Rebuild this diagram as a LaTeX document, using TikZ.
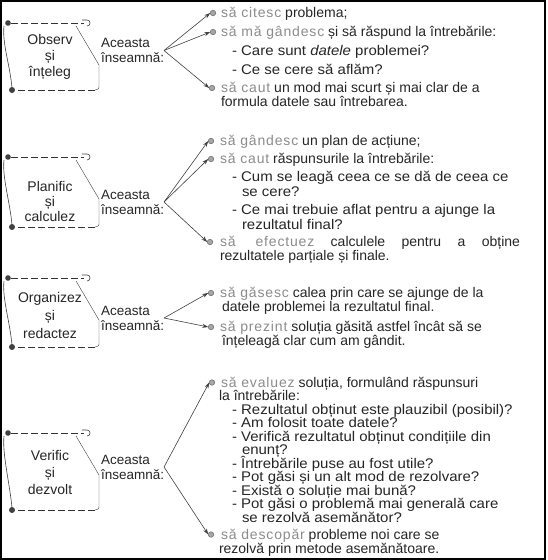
\documentclass[tikz,border=0pt]{standalone}
\usepackage{fontspec}
\setmainfont{Liberation Sans}
\newfontfamily\subfont[FakeStretch=1.07]{Liberation Sans}
\usetikzlibrary{arrows.meta}
\newcommand\vb[1]{{\addfontfeature{LetterSpace=6}\textcolor{black!45}{#1}}}
\newcommand\drawscroll[2]{%
\begin{scope}[shift={(0,#1)}]
 \draw[scrolldash] (11,0) -- (84,0);
 \draw[scrollline] (82,-3) -- (87,-3) .. controls (91,-3) and (91,3) .. (87,3);
 \fill[black!75] (8,0) circle (2.8);
 \draw[scrollline] (4,3) .. controls (2,20) and (10,#2-25) .. (12,#2-2);
 \draw[scrollline,line width=0.4pt] (76,3) -- (99,42) -- (99,#2-5) .. controls (99,#2-1) .. (95,#2);
 \draw[scrolldash] (95,#2) -- (15,#2);
 \fill[black!75] (12,#2) circle (3);
\end{scope}}
\begin{document}
\begin{tikzpicture}[x=1pt,y=-1pt,
  every node/.style={inner sep=0pt,outer sep=0pt},
  scrolldash/.style={draw=black!80,line width=0.9pt,dash pattern=on 7pt off 3pt},
  scrollline/.style={draw=black!75,line width=0.6pt},
  lbl/.style={align=center,font=\fontsize{14}{16}\selectfont,text=black!85},
  mean/.style={align=left,anchor=west,font=\fontsize{13.5}{15}\selectfont,text=black!85},
  txt/.style={anchor=base west,font=\fontsize{14}{15}\selectfont,text=black!85},
  sub/.style={anchor=base west,font=\fontsize{14}{15}\subfont,text=black!85},
  bul/.style={circle,minimum size=5.5pt,fill=black!35,draw=black!60,line width=0.5pt},
  arr/.style={-{Stealth[length=6pt,width=4pt]},draw=black!75,line width=0.6pt}]
\useasboundingbox (0,0) rectangle (547,560);
\fill[white] (0,0) rectangle (547,560);
\draw[line width=2.4pt] (1.2,1.2) rectangle (545.2,558.8);

% ---------- section 1 ----------
\drawscroll{23}{67}
\node[lbl] (l1) at (50,57) {Observ\\și\\înțeleg};
\node[mean] (a1) at (101,50.5) {Aceasta\\înseamnă:};
\node[bul] (b11) at (213,13) {};
\node[txt] (t11) at (221,17.5) {\vb{să citesc} problema;};
\node[bul] (b12) at (213,32) {};
\node[txt] (t12) at (221,36.5) {\vb{să mă gândesc} și să răspund la întrebările:};
\node[sub] (t13) at (232,55.5) {- Care sunt \textit{datele} problemei?};
\node[sub] (t14) at (232,74.5) {- Ce se cere să aflăm?};
\node[bul] (b13) at (212,88) {};
\node[txt] (t15) at (221,92.5) {\vb{să caut} un mod mai scurt și mai clar de a};
\node[txt] (t16) at (221,106) {formula datele sau întrebarea.};
\draw[arr] (a1.east) -- (b11.west);
\draw[arr] (a1.east) -- (b12.west);
\draw[arr] (a1.east) -- (b13.west);

% ---------- section 2 ----------
\drawscroll{157}{70}
\node[lbl,font=\fontsize{14}{15}\selectfont] (l2) at (50,201) {Planific\\și\\calculez};
\node[mean] (a2) at (101,202) {Aceasta\\înseamnă:};
\node[bul] (b21) at (211,141) {};
\node[txt] (t21) at (220,145.5) {\vb{să gândesc} un plan de acțiune;};
\node[bul] (b22) at (211,159) {};
\node[txt] (t22) at (220,163.5) {\vb{să caut} răspunsurile la întrebările:};
\node[sub] (t23) at (232,181.5) {- Cum se leagă ceea ce se dă de ceea ce};
\node[sub] (t24) at (242,196) {se cere?};
\node[sub] (t25) at (232,214.5) {- Ce mai trebuie aflat pentru a ajunge la};
\node[sub] (t26) at (242,229) {rezultatul final?};
\node[bul] (b23) at (210,242) {};
\node[txt] (t27) at (220,246.5) {\makebox[300pt][s]{\vb{să efectuez} calculele pentru a obține}};
\node[txt] (t28) at (220,260.5) {rezultatele parțiale și finale.};
\draw[arr] (a2.east) -- (b21.west);
\draw[arr] (a2.east) -- (b22.west);
\draw[arr] (a2.east) -- (b23.west);

% ---------- section 3 ----------
\drawscroll{278}{69}
\node[lbl,font=\fontsize{14}{18}\selectfont] (l3) at (50,315) {Organizez\\și\\redactez};
\node[mean] (a3) at (101,318) {Aceasta\\înseamnă:};
\node[bul] (b31) at (211,293) {};
\node[txt] (t31) at (220,297.5) {\vb{să găsesc} calea prin care se ajunge de la};
\node[txt] (t32) at (222,311.5) {datele problemei la rezultatul final.};
\node[bul] (b32) at (211,327) {};
\node[txt] (t33) at (220,331.5) {\vb{să prezint} soluția găsită astfel încât să se};
\node[txt] (t34) at (222,345.5) {înțeleagă clar cum am gândit.};
\draw[arr] (a3.east) -- (b31.west);
\draw[arr] (a3.east) -- (b32.west);

% ---------- section 4 ----------
\drawscroll{433}{77}
\node[lbl,font=\fontsize{14}{17}\selectfont] (l4) at (50,472) {Verific\\și\\dezvolt};
\node[mean] (a4) at (101,467) {Aceasta\\înseamnă:};
\node[bul] (b41) at (212,382.5) {};
\node[txt] (t41) at (221,387) {\vb{să evaluez} soluția, formulând răspunsuri};
\node[txt] (t42) at (219,400.5) {la întrebările:};
\node[sub] (t43) at (232,414) {- Rezultatul obținut este plauzibil (posibil)?};
\node[sub] (t44) at (232,427.5) {- Am folosit toate datele?};
\node[sub] (t45) at (232,441) {- Verifică rezultatul obținut condițiile din};
\node[sub] (t46) at (242,454.5) {enunț?};
\node[sub] (t47) at (232,468) {- Întrebările puse au fost utile?};
\node[sub] (t48) at (232,481.5) {- Pot găsi și un alt mod de rezolvare?};
\node[sub] (t49) at (232,495) {- Există o soluție mai bună?};
\node[sub] (t410) at (232,508.5) {- Pot găsi o problemă mai generală care};
\node[sub] (t411) at (242,522) {se rezolvă asemănător?};
\node[bul] (b42) at (211,534.5) {};
\node[txt] (t412) at (221,539) {\vb{să descopăr} probleme noi care se};
\node[txt] (t413) at (219,553) {rezolvă prin metode asemănătoare.};
\draw[arr] (a4.east) -- (b41.west);
\draw[arr] (a4.east) -- (b42.west);
\end{tikzpicture}
\end{document}
